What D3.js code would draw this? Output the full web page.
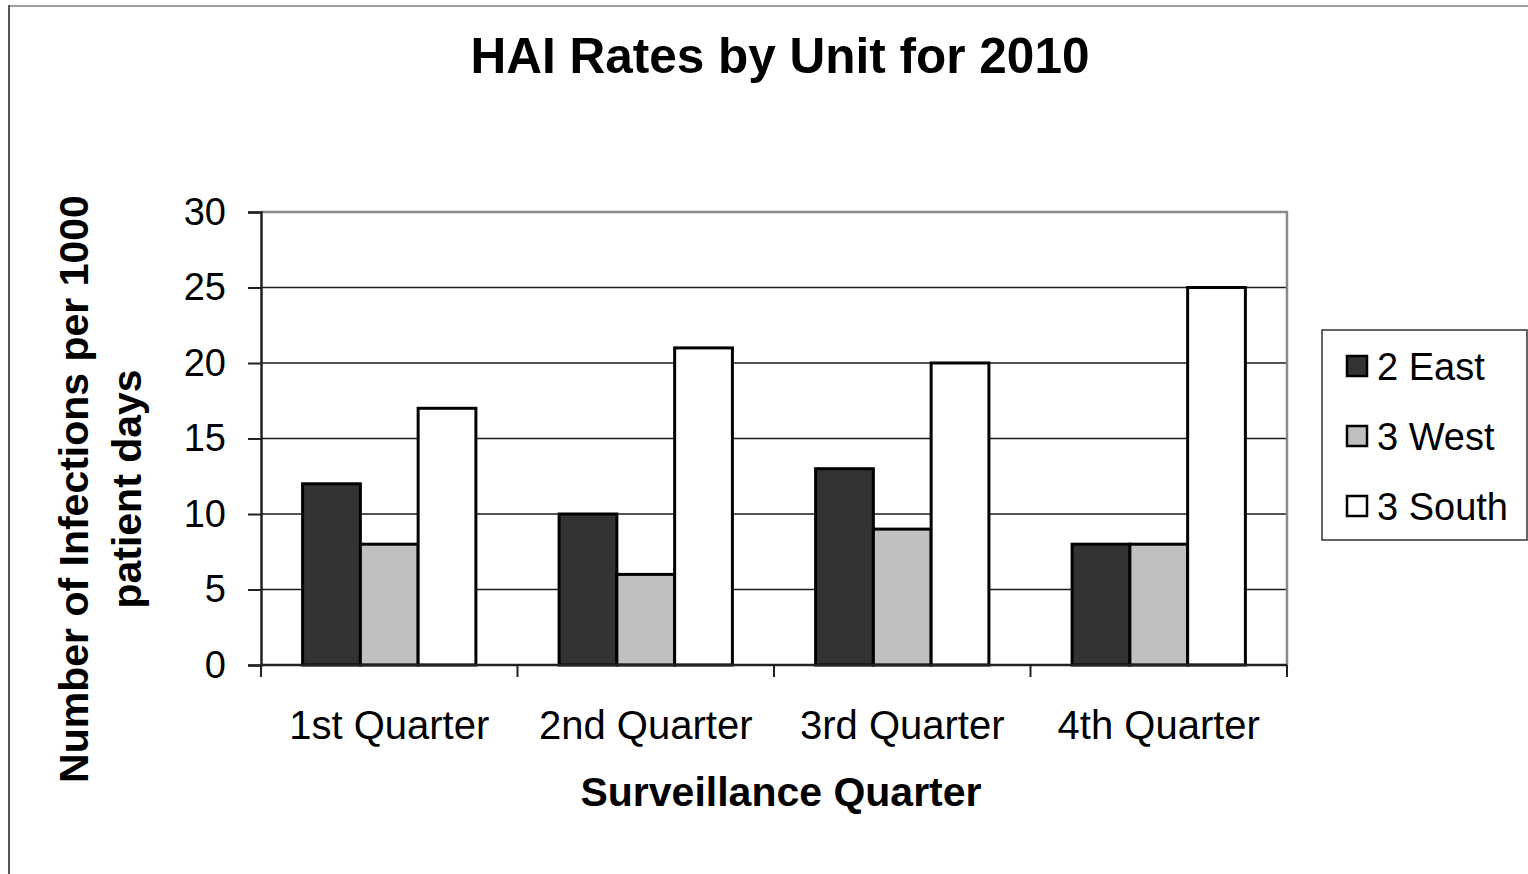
<!DOCTYPE html>
<html>
<head>
<meta charset="utf-8">
<script src="https://cdn.jsdelivr.net/npm/d3@7/dist/d3.min.js"></script>
<style>
  html, body { margin: 0; padding: 0; background: #fff; }
  svg { display: block; }
  text { font-family: "Liberation Sans", Arial, sans-serif; fill: #000; }
</style>
</head>
<body>
<svg id="chart" width="1528" height="874"></svg>
<script>
// Quarterly HAI rates per unit
const quarters = ["1st Quarter", "2nd Quarter", "3rd Quarter", "4th Quarter"];
const units = ["2 East", "3 West", "3 South"];
const east2 = [12, 10, 13, 8];
const west3 = [8, 6, 9, 8];
const south3 = [17, 21, 20, 25];
const yTicks = [0, 5, 10, 15, 20, 25, 30];
const unitColors = ["#333333", "#c0c0c0", "#ffffff"];

const seriesValues = [east2, west3, south3];

const svg = d3.select("#chart");

// Outer frame of the chart area
svg.append("line").attr("x1", 8).attr("x2", 1528).attr("y1", 6).attr("y2", 6)
  .attr("stroke", "#a0a0a0").attr("stroke-width", 2);
svg.append("line").attr("x1", 9).attr("x2", 9).attr("y1", 5).attr("y2", 874)
  .attr("stroke", "#555").attr("stroke-width", 2);

const plot = { left: 261, right: 1287, top: 212, bottom: 665 };

const x = d3.scaleBand().domain(quarters).range([plot.left, plot.right]).paddingInner(0).paddingOuter(0);
const inner = d3.scaleBand().domain(units).range([0, x.bandwidth()]).paddingInner(0).paddingOuter(0.72);
const y = d3.scaleLinear().domain([0, 30]).range([plot.bottom, plot.top]);

// Horizontal gridlines
svg.append("g").selectAll("line").data(yTicks.filter(v => v > 0 && v < 30)).join("line")
  .attr("x1", plot.left).attr("x2", plot.right)
  .attr("y1", d => y(d)).attr("y2", d => y(d))
  .attr("stroke", "#1a1a1a").attr("stroke-width", 1.5);

// Plot-area border (top and right)
svg.append("path")
  .attr("d", `M${plot.left},${y(30)}H${plot.right}V${plot.bottom}`)
  .attr("fill", "none").attr("stroke", "#8a8a8a").attr("stroke-width", 2.5);

// Bars
const groups = svg.append("g").selectAll("g").data(quarters).join("g")
  .attr("transform", d => `translate(${x(d)},0)`);
groups.selectAll("rect").data((q, qi) => units.map((u, ui) => ({ u, ui, v: seriesValues[ui][qi] })))
  .join("rect")
  .attr("x", d => inner(d.u))
  .attr("width", inner.bandwidth())
  .attr("y", d => y(d.v))
  .attr("height", d => y(0) - y(d.v))
  .attr("fill", d => unitColors[d.ui])
  .attr("stroke", "#000").attr("stroke-width", 3);

// Y axis
const yAxis = d3.axisLeft(y).tickValues(yTicks).tickSize(13).tickPadding(22);
const gy = svg.append("g").attr("transform", `translate(${plot.left},0)`).call(yAxis);
gy.select(".domain").attr("stroke", "#222").attr("stroke-width", 2.5);
gy.selectAll(".tick line").attr("stroke", "#222").attr("stroke-width", 2);
gy.selectAll(".tick text").style("font-size", "38px").attr("fill", "#000")
  .style("font-family", "'Liberation Sans', Arial, sans-serif");

// X axis: ticks at category boundaries
const gx = svg.append("g").attr("transform", `translate(0,${plot.bottom})`);
gx.append("line").attr("x1", plot.left).attr("x2", plot.right).attr("y1", 0).attr("y2", 0)
  .attr("stroke", "#222").attr("stroke-width", 2.5);
const bounds = quarters.map(q => x(q)).concat([plot.right]);
gx.selectAll("line.tk").data(bounds).join("line").attr("class", "tk")
  .attr("x1", d => d).attr("x2", d => d).attr("y1", 0).attr("y2", 12)
  .attr("stroke", "#222").attr("stroke-width", 2);
gx.selectAll("text").data(quarters).join("text")
  .attr("x", d => x(d) + x.bandwidth() / 2).attr("y", 74)
  .attr("text-anchor", "middle").style("font-size", "40px").text(d => d);

// Titles
svg.append("text").attr("x", 780).attr("y", 73).attr("text-anchor", "middle")
  .style("font-size", "49.5px").style("font-weight", "bold").text("HAI Rates by Unit for 2010");
svg.append("text").attr("x", 781).attr("y", 806).attr("text-anchor", "middle")
  .style("font-size", "41px").style("font-weight", "bold").text("Surveillance Quarter");
const yt = svg.append("text").attr("transform", "translate(88,489) rotate(-90)")
  .attr("text-anchor", "middle").style("font-size", "41px").style("font-weight", "bold");
yt.append("tspan").attr("x", 0).attr("dy", 0).text("Number of Infections per 1000");
yt.append("tspan").attr("x", 0).attr("dy", 53).text("patient days");

// Legend
const lg = svg.append("g");
lg.append("rect").attr("x", 1322).attr("y", 330).attr("width", 205).attr("height", 210)
  .attr("fill", "#fff").attr("stroke", "#333").attr("stroke-width", 1.5);
const items = lg.selectAll("g.item").data(units).join("g").attr("class", "item")
  .attr("transform", (d, i) => `translate(1347,${356 + i * 70})`);
items.append("rect").attr("width", 20).attr("height", 20)
  .attr("fill", (d, i) => unitColors[i]).attr("stroke", "#000").attr("stroke-width", 2.5);
items.append("text").attr("x", 30).attr("y", 24).style("font-size", "38px").text(d => d);
</script>
</body>
</html>
